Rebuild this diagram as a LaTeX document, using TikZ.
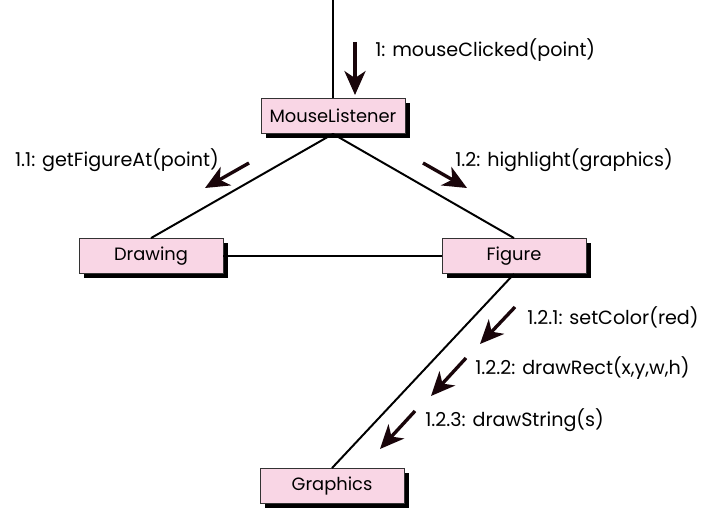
\documentclass[tikz,border=0pt]{standalone}
\usepackage{fontspec}
\setmainfont{Poppins}
\usetikzlibrary{arrows.meta, shadows}
\definecolor{clspink}{RGB}{249,214,229}
\definecolor{tipdark}{RGB}{25,5,10}

\begin{document}
\begin{tikzpicture}[
  x=0.025cm, y=-0.025cm,
  cls/.style={draw=black!80, line width=0.6pt, fill=clspink,
              minimum width=3.6cm, minimum height=0.875cm, inner sep=0pt,
              font=\fontsize{12.7}{14}\selectfont,
              drop shadow={shadow xshift=0.12cm, shadow yshift=-0.12cm,
                           fill=black, opacity=1}},
  msg/.style={font=\fontsize{13.6}{15}\selectfont, inner sep=0pt},
  link/.style={line width=1.4pt},
  marr/.style={-{Stealth[length=17pt, width=15pt, inset=5pt]},
               line width=2.4pt, draw=tipdark, fill=tipdark}
]
  \useasboundingbox (0,0) rectangle (709,511);

  \node[cls] (listener) at (333,116) {MouseListener};
  \node[cls] (drawing)  at (151,256) {Drawing};
  \node[cls] (figure)   at (514,256) {Figure};
  \node[cls] (graphics) at (332,486) {Graphics};

  \coordinate (entry) at (333,0);

  \draw[link] (entry) -- (listener.north);
  \draw[link] (listener.south) -- (drawing.north);
  \draw[link] (listener.south) -- (figure.north);
  \draw[link] (drawing.east) -- (figure.west);
  \draw[link] (figure.south) -- (graphics.north);

  \draw[marr] (355,42) -- (355,95);
  \draw[marr] (249,163) -- (205,188);
  \draw[marr] (423,163) -- (467,188);
  \draw[marr] (515,307) -- (480,344);
  \draw[marr] (466,358) -- (431,396);
  \draw[marr] (415,411) -- (380,449);

  \node[msg, anchor=west] (m1)   at (375,50)  {1: mouseClicked(point)};
  \node[msg, anchor=east] (m11)  at (219,160) {1.1: getFigureAt(point)};
  \node[msg, anchor=west] (m12)  at (455,160) {1.2: highlight(graphics)};
  \node[msg, anchor=west] (m121) at (527,317) {1.2.1: setColor(red)};
  \node[msg, anchor=west] (m122) at (475,368) {1.2.2: drawRect(x,y,w,h)};
  \node[msg, anchor=west] (m123) at (425,420) {1.2.3: drawString(s)};
\end{tikzpicture}
\end{document}
